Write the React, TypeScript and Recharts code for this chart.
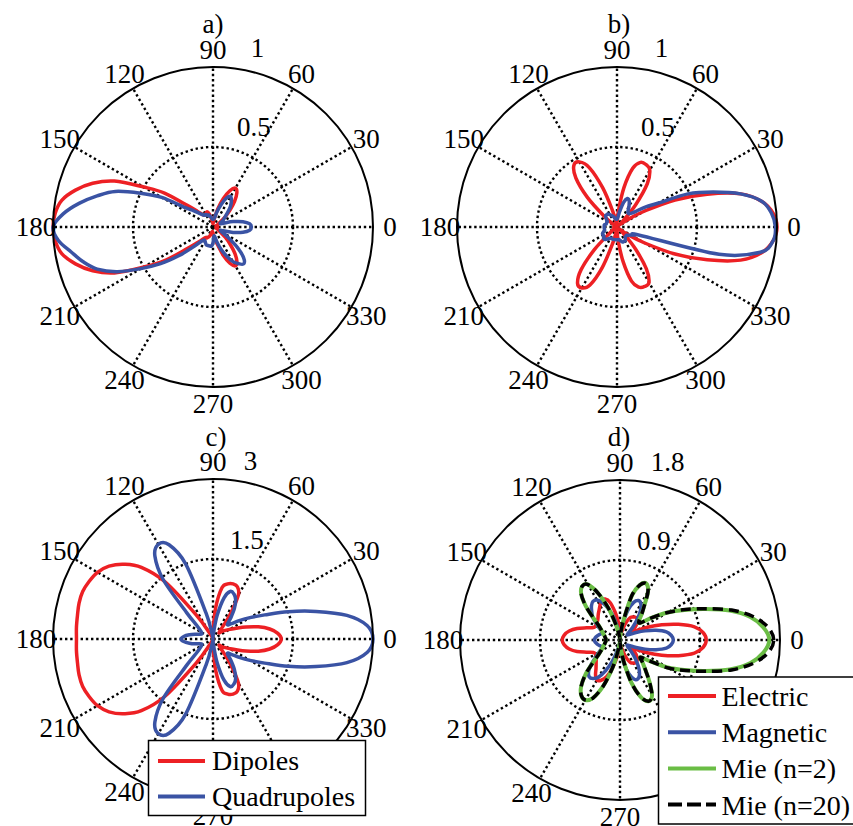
import React from "react";
import {
  RadarChart,
  Radar,
  PolarGrid,
  PolarAngleAxis,
  PolarRadiusAxis,
} from "recharts";

// sample angles (deg) for every series
const ANGLES = [
  0, 5, 10, 15, 20, 25, 30, 35, 40, 45, 50, 55, 60, 65, 70, 75, 80, 85,
  90, 95, 100, 105, 110, 115, 120, 125, 130, 135, 140, 145, 150, 155, 160, 165, 170, 175,
  180, 185, 190, 195, 200, 205, 210, 215, 220, 225, 230, 235, 240, 245, 250, 255, 260, 265,
  270, 275, 280, 285, 290, 295, 300, 305, 310, 315, 320, 325, 330, 335, 340, 345, 350, 355,
];
const ANGLE_TICKS = [0, 30, 60, 90, 120, 150, 180, 210, 240, 270, 300, 330];

// a)
const A_RED = [
  0.03, 0.02, 0.02, 0.02, 0.02, 0.03, 0.04, 0.06, 0.1, 0.15, 0.21, 0.26, 0.28, 0.25, 0.19, 0.12, 0.06, 0.03,
  0.02, 0.03, 0.05, 0.08, 0.1, 0.1, 0.09, 0.09, 0.1, 0.14, 0.21, 0.37, 0.5, 0.68, 0.8, 0.89, 0.96, 0.99,
  1.0, 0.99, 0.96, 0.89, 0.8, 0.68, 0.5, 0.36, 0.21, 0.14, 0.1, 0.08, 0.08, 0.07, 0.06, 0.04, 0.03, 0.03,
  0.04, 0.06, 0.08, 0.12, 0.19, 0.25, 0.28, 0.26, 0.21, 0.15, 0.1, 0.06, 0.04, 0.03, 0.02, 0.02, 0.02, 0.02,
];
const A_BLUE = [
  0.24, 0.23, 0.19, 0.13, 0.07, 0.05, 0.06, 0.08, 0.1, 0.13, 0.17, 0.2, 0.22, 0.2, 0.15, 0.1, 0.06, 0.05,
  0.05, 0.05, 0.06, 0.07, 0.08, 0.08, 0.09, 0.09, 0.1, 0.12, 0.16, 0.21, 0.37, 0.5, 0.65, 0.75, 0.85, 0.94,
  1.0, 0.97, 0.9, 0.84, 0.77, 0.66, 0.52, 0.4, 0.28, 0.18, 0.12, 0.1, 0.1, 0.11, 0.12, 0.12, 0.12, 0.12,
  0.1, 0.06, 0.06, 0.1, 0.15, 0.2, 0.25, 0.28, 0.3, 0.27, 0.2, 0.12, 0.07, 0.05, 0.07, 0.13, 0.19, 0.23,
];

// b)
const B_RED = [
  1.0, 0.98, 0.92, 0.8, 0.6, 0.4, 0.2, 0.08, 0.02, 0.05, 0.18, 0.33, 0.41, 0.43, 0.43, 0.38, 0.25, 0.1,
  0.02, 0.0, 0.03, 0.1, 0.26, 0.41, 0.47, 0.47, 0.4, 0.26, 0.1, 0.02, 0.01, 0.02, 0.02, 0.02, 0.02, 0.02,
  0.02, 0.02, 0.02, 0.02, 0.02, 0.02, 0.01, 0.02, 0.06, 0.2, 0.35, 0.43, 0.44, 0.4, 0.27, 0.11, 0.03, 0.0,
  0.02, 0.09, 0.22, 0.35, 0.4, 0.41, 0.4, 0.32, 0.18, 0.06, 0.02, 0.08, 0.2, 0.4, 0.6, 0.8, 0.92, 0.98,
];
const B_BLUE = [
  0.99, 0.97, 0.92, 0.8, 0.64, 0.49, 0.3, 0.22, 0.15, 0.12, 0.11, 0.12, 0.15, 0.18, 0.19, 0.16, 0.1, 0.06,
  0.05, 0.05, 0.05, 0.06, 0.07, 0.08, 0.09, 0.1, 0.1, 0.1, 0.09, 0.08, 0.07, 0.07, 0.07, 0.07, 0.08, 0.08,
  0.08, 0.08, 0.08, 0.08, 0.09, 0.1, 0.1, 0.1, 0.11, 0.11, 0.1, 0.09, 0.08, 0.08, 0.08, 0.08, 0.08, 0.08,
  0.08, 0.08, 0.08, 0.09, 0.1, 0.1, 0.1, 0.09, 0.08, 0.08, 0.08, 0.09, 0.1, 0.12, 0.15, 0.66, 0.91, 0.98,
];

// c)
const C_DIPOLES = [
  1.28, 1.22, 1.08, 0.88, 0.66, 0.48, 0.36, 0.28, 0.22, 0.16, 0.22, 0.55, 0.95, 1.08, 1.1, 1.07, 0.98, 0.6,
  0.15, 0.04, 0.02, 0.02, 0.03, 0.05, 0.12, 0.55, 1.4, 1.9, 2.18, 2.38, 2.5, 2.56, 2.6, 2.6, 2.58, 2.57,
  2.56, 2.57, 2.58, 2.6, 2.6, 2.56, 2.5, 2.38, 2.18, 1.9, 1.4, 0.55, 0.12, 0.05, 0.03, 0.02, 0.02, 0.04,
  0.15, 0.6, 0.98, 1.07, 1.1, 1.08, 0.95, 0.55, 0.22, 0.16, 0.22, 0.28, 0.36, 0.48, 0.66, 0.88, 1.08, 1.22,
];
const C_QUADRUPOLES = [
  3.0, 2.9, 2.55, 2.0, 1.5, 1.07, 0.8, 0.6, 0.45, 0.38, 0.52, 0.7, 0.85, 0.93, 0.95, 0.8, 0.45, 0.12,
  0.04, 0.02, 0.1, 0.5, 1.5, 1.95, 2.05, 1.9, 1.45, 0.7, 0.4, 0.3, 0.25, 0.23, 0.26, 0.35, 0.45, 0.55,
  0.6, 0.55, 0.45, 0.35, 0.26, 0.23, 0.25, 0.3, 0.4, 0.7, 1.45, 1.9, 2.05, 1.95, 1.5, 0.5, 0.1, 0.02,
  0.04, 0.12, 0.45, 0.8, 0.95, 0.93, 0.85, 0.7, 0.52, 0.38, 0.45, 0.6, 0.8, 1.07, 1.5, 2.0, 2.55, 2.9,
];

// d)
const D_ELECTRIC = [
  0.97, 0.94, 0.85, 0.68, 0.5, 0.34, 0.2, 0.15, 0.22, 0.27, 0.3, 0.31, 0.3, 0.28, 0.22, 0.14, 0.08, 0.07,
  0.12, 0.2, 0.32, 0.44, 0.49, 0.49, 0.45, 0.41, 0.38, 0.35, 0.33, 0.32, 0.32, 0.33, 0.4, 0.5, 0.58, 0.63,
  0.65, 0.63, 0.58, 0.5, 0.4, 0.33, 0.32, 0.33, 0.35, 0.38, 0.42, 0.48, 0.52, 0.5, 0.44, 0.32, 0.2, 0.12,
  0.08, 0.07, 0.08, 0.14, 0.22, 0.28, 0.3, 0.31, 0.3, 0.27, 0.22, 0.15, 0.2, 0.34, 0.5, 0.68, 0.85, 0.94,
];
const D_MAGNETIC = [
  0.6, 0.58, 0.53, 0.42, 0.3, 0.2, 0.13, 0.1, 0.12, 0.2, 0.3, 0.4, 0.47, 0.49, 0.45, 0.35, 0.2, 0.08,
  0.03, 0.05, 0.12, 0.25, 0.37, 0.46, 0.52, 0.53, 0.5, 0.45, 0.4, 0.33, 0.27, 0.23, 0.22, 0.24, 0.26, 0.28,
  0.29, 0.28, 0.26, 0.24, 0.22, 0.23, 0.27, 0.33, 0.42, 0.5, 0.54, 0.53, 0.48, 0.38, 0.26, 0.14, 0.06, 0.03,
  0.06, 0.15, 0.28, 0.4, 0.47, 0.48, 0.44, 0.36, 0.26, 0.17, 0.11, 0.1, 0.13, 0.2, 0.3, 0.42, 0.53, 0.58,
];
const D_MIE2 = [
  1.68, 1.62, 1.49, 1.28, 1.02, 0.8, 0.62, 0.44, 0.3, 0.3, 0.38, 0.48, 0.63, 0.7, 0.66, 0.52, 0.22, 0.06,
  0.01, 0.02, 0.06, 0.18, 0.38, 0.58, 0.72, 0.74, 0.68, 0.55, 0.4, 0.3, 0.25, 0.22, 0.2, 0.18, 0.17, 0.16,
  0.16, 0.16, 0.17, 0.18, 0.2, 0.22, 0.25, 0.3, 0.4, 0.55, 0.68, 0.76, 0.78, 0.72, 0.55, 0.32, 0.12, 0.03,
  0.02, 0.08, 0.25, 0.5, 0.68, 0.76, 0.72, 0.58, 0.45, 0.36, 0.3, 0.42, 0.62, 0.8, 1.02, 1.28, 1.49, 1.62,
];
const D_MIE20 = [
  1.73, 1.67, 1.52, 1.3, 1.03, 0.81, 0.62, 0.44, 0.3, 0.3, 0.38, 0.48, 0.63, 0.7, 0.66, 0.52, 0.22, 0.06,
  0.01, 0.02, 0.06, 0.18, 0.38, 0.58, 0.72, 0.74, 0.68, 0.55, 0.4, 0.3, 0.25, 0.22, 0.2, 0.18, 0.17, 0.16,
  0.16, 0.16, 0.17, 0.18, 0.2, 0.22, 0.25, 0.3, 0.4, 0.55, 0.68, 0.76, 0.78, 0.72, 0.55, 0.32, 0.12, 0.03,
  0.02, 0.08, 0.25, 0.5, 0.68, 0.76, 0.72, 0.58, 0.45, 0.36, 0.3, 0.42, 0.63, 0.81, 1.03, 1.3, 1.52, 1.67,
];

const LEGEND_C = ["Dipoles", "Quadrupoles"];
const LEGEND_D = ["Electric", "Magnetic", "Mie (n=2)", "Mie (n=20)"];

const FONT = "'Liberation Serif', 'Times New Roman', 'DejaVu Serif', serif";
const RED = "#ED2024";
const BLUE = "#3A53A4";
const GREEN = "#6ABD45";
const R = 160;

// closed catmull-rom through the points recharts computed
function closedSpline(pts: { x: number; y: number }[]) {
  const n = pts.length;
  let d = `M${pts[0].x},${pts[0].y}`;
  for (let i = 0; i < n; i++) {
    const p0 = pts[(i - 1 + n) % n];
    const p1 = pts[i];
    const p2 = pts[(i + 1) % n];
    const p3 = pts[(i + 2) % n];
    const c1x = p1.x + (p2.x - p0.x) / 6;
    const c1y = p1.y + (p2.y - p0.y) / 6;
    const c2x = p2.x - (p3.x - p1.x) / 6;
    const c2y = p2.y - (p3.y - p1.y) / 6;
    d += `C${c1x},${c1y} ${c2x},${c2y} ${p2.x},${p2.y}`;
  }
  return d + "Z";
}

const SmoothShape = (props: any) => {
  const { points, stroke, strokeWidth, strokeDasharray } = props;
  if (!points || points.length < 3) return <g />;
  return (
    <path
      d={closedSpline(points)}
      fill="none"
      stroke={stroke}
      strokeWidth={strokeWidth}
      strokeDasharray={strokeDasharray}
      strokeLinejoin="round"
    />
  );
};

const renderAngleTick = (props: any) => {
  const { x, y, payload } = props;
  const a = (payload.value * Math.PI) / 180;
  return (
    <text
      x={x + 9 * Math.cos(a)}
      y={y - 9 * Math.sin(a)}
      textAnchor="middle"
      dominantBaseline="central"
      style={{ fontFamily: FONT, fontSize: 27 }}
      fill="#000"
    >
      {payload.value}
    </text>
  );
};

type Series = { key: string; values: number[]; color: string; dash?: string; width?: number };

function PolarPanel(p: {
  left: number;
  top: number;
  cx: number;
  cy: number;
  max: number;
  radiusTicks: number[];
  dx: number;
  dy: number;
  series: Series[];
}) {
  const data = ANGLES.map((angle, i) => {
    const row: Record<string, number> = { angle };
    p.series.forEach((s) => (row[s.key] = s.values[i]));
    return row;
  });
  return (
    <div style={{ position: "absolute", left: p.left, top: p.top }}>
      <RadarChart
        width={426}
        height={413}
        data={data}
        cx={p.cx}
        cy={p.cy}
        outerRadius={R}
        startAngle={0}
        endAngle={360}
        margin={{ top: 0, right: 0, bottom: 0, left: 0 }}
      >
        <PolarGrid
          gridType="circle"
          polarAngles={ANGLE_TICKS}
          polarRadius={[R / 2]}
          stroke="#000"
          strokeWidth={2.4}
          strokeDasharray="2.4 2.8"
        />
        <PolarAngleAxis
          dataKey="angle"
          type="number"
          domain={[0, 360]}
          ticks={ANGLE_TICKS}
          stroke="#000"
          axisLine={{ stroke: "#000", strokeWidth: 2 }}
          axisLineType="circle"
          tickLine={false}
          tick={renderAngleTick}
        />
        <PolarRadiusAxis
          angle={80}
          type="number"
          domain={[0, p.max]}
          allowDataOverflow
          allowDecimals
          ticks={p.radiusTicks}
          axisLine={false}
          tickLine={false}
          tick={(t: any) => (
            <text
              x={t.x + p.dx}
              y={t.y + p.dy}
              textAnchor="start"
              style={{ fontFamily: FONT, fontSize: 27 }}
              fill="#000"
            >
              {t.payload.value}
            </text>
          )}
        />
        {p.series.map((s) => (
          <Radar
            key={s.key}
            dataKey={s.key}
            stroke={s.color}
            strokeWidth={s.width ?? 3.5}
            strokeDasharray={s.dash}
            fill="none"
            dot={false}
            shape={SmoothShape}
            isAnimationActive={false}
          />
        ))}
      </RadarChart>
    </div>
  );
}

export default function App() {
  const txt = { style: { fontFamily: FONT }, fill: "#000" } as const;
  return (
    <div style={{ position: "absolute", left: 0, top: 0, width: 853, height: 826, background: "#fff", fontFamily: FONT }}>
      <style>{`.recharts-surface{overflow:visible}`}</style>
      <PolarPanel
        left={0} top={0} cx={213} cy={227} max={1} radiusTicks={[0.5, 1]} dx={10} dy={-12}
        series={[
          { key: "red", values: A_RED, color: RED },
          { key: "blue", values: A_BLUE, color: BLUE },
        ]}
      />
      <PolarPanel
        left={426} top={0} cx={191} cy={227} max={1} radiusTicks={[0.5, 1]} dx={10} dy={-12}
        series={[
          { key: "red", values: B_RED, color: RED },
          { key: "blue", values: B_BLUE, color: BLUE },
        ]}
      />
      <PolarPanel
        left={0} top={413} cx={213} cy={226} max={3} radiusTicks={[1.5, 3]} dx={3} dy={-11}
        series={[
          { key: "dip", values: C_DIPOLES, color: RED },
          { key: "quad", values: C_QUADRUPOLES, color: BLUE },
        ]}
      />
      <PolarPanel
        left={426} top={413} cx={194} cy={227} max={1.8} radiusTicks={[0.9, 1.8]} dx={3} dy={-11}
        series={[
          { key: "el", values: D_ELECTRIC, color: RED },
          { key: "mag", values: D_MAGNETIC, color: BLUE },
          { key: "mie2", values: D_MIE2, color: GREEN, width: 4 },
          { key: "mie20", values: D_MIE20, color: "#000", dash: "10 6" },
        ]}
      />
      <svg width={853} height={826} style={{ position: "absolute", left: 0, top: 0, pointerEvents: "none" }}>
        <text x={213} y={33} textAnchor="middle" fontSize={27} {...txt}>a)</text>
        <text x={619} y={33} textAnchor="middle" fontSize={27} {...txt}>b)</text>
        <text x={216} y={446} textAnchor="middle" fontSize={27} {...txt}>c)</text>
        <text x={619} y={446} textAnchor="middle" fontSize={27} {...txt}>d)</text>

        <rect x={148.5} y={740.5} width={217} height={75} fill="#fff" stroke="#000" strokeWidth={1.5} />
        {LEGEND_C.map((name, i) => (
          <g key={name}>
            <line x1={158} x2={205} y1={761 + i * 35.5} y2={761 + i * 35.5} stroke={[RED, BLUE][i]} strokeWidth={4} />
            <text x={212} y={770 + i * 35.5} fontSize={28} {...txt}>{name}</text>
          </g>
        ))}

        <rect x={658.5} y={677} width={200} height={147} fill="#fff" stroke="#000" strokeWidth={1.5} />
        {LEGEND_D.map((name, i) => (
          <g key={name}>
            <line
              x1={668} x2={716} y1={696 + i * 36.2} y2={696 + i * 36.2}
              stroke={[RED, BLUE, GREEN, "#000"][i]}
              strokeWidth={4}
              strokeDasharray={i === 3 ? "14 5" : undefined}
            />
            <text x={721.5} y={706 + i * 36.2} fontSize={28} {...txt}>{name}</text>
          </g>
        ))}
      </svg>
    </div>
  );
}
